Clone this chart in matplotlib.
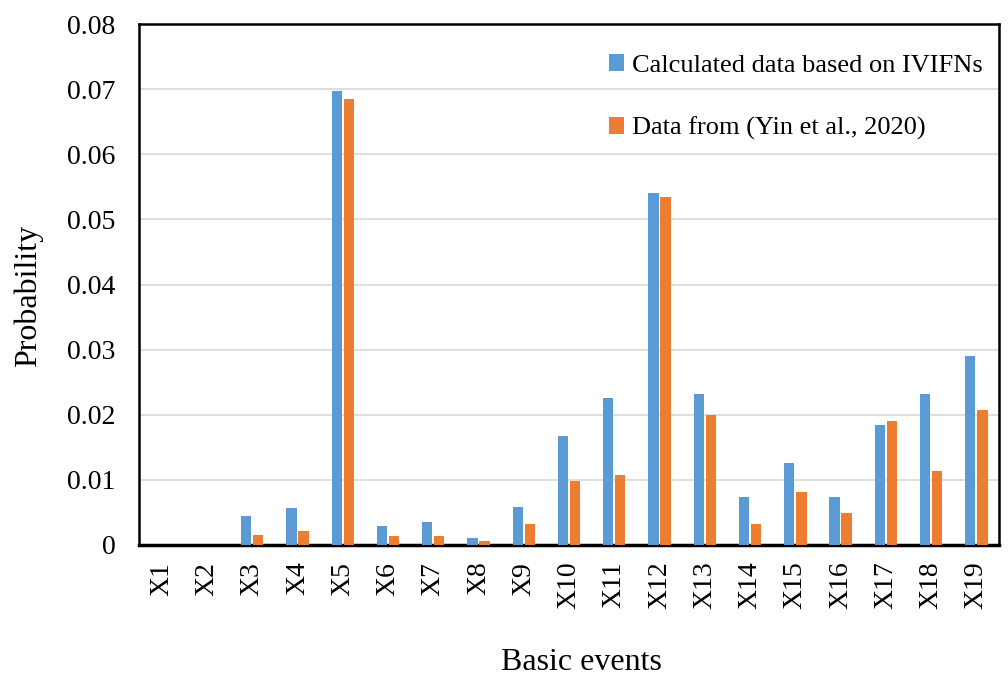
import matplotlib
matplotlib.use("Agg")
import matplotlib.pyplot as plt
import numpy as np

categories = [f"X{i}" for i in range(1, 20)]
calc_ivifn = [0.0, 0.0, 0.0044, 0.0057, 0.0697, 0.0029, 0.0035, 0.0011, 0.0059, 0.0167,
              0.0226, 0.0540, 0.0232, 0.0073, 0.0126, 0.0074, 0.0184, 0.0232, 0.0290]
yin_2020 = [0.0, 0.0, 0.0015, 0.0021, 0.0685, 0.0014, 0.0014, 0.0006, 0.0032, 0.0098,
            0.0107, 0.0534, 0.0199, 0.0032, 0.0082, 0.0049, 0.0191, 0.0114, 0.0207]
yticks = [0, 0.01, 0.02, 0.03, 0.04, 0.05, 0.06, 0.07, 0.08]
ytick_labels = ["0", "0.01", "0.02", "0.03", "0.04", "0.05", "0.06", "0.07", "0.08"]

plt.rcParams['font.family'] = ['Liberation Serif', 'DejaVu Serif']

fig = plt.figure(figsize=(10.08, 6.77), dpi=100)
ax = fig.add_axes([0.138, 0.195, 0.853, 0.7695])

x = np.arange(len(categories))
w = 0.23
ax.bar(x - 0.133, calc_ivifn, width=w, color="#5B9BD5", label="Calculated data based on IVIFNs", zorder=3)
ax.bar(x + 0.133, yin_2020, width=w, color="#ED7D31", label="Data from (Yin et al., 2020)", zorder=3)

ax.set_xlim(-0.5, len(categories) - 0.5)
ax.set_ylim(0, 0.08)
ax.set_yticks(yticks)
ax.set_yticklabels(ytick_labels, fontsize=20)
ax.set_xticks(x)
ax.set_xticklabels(categories, rotation=90, fontsize=20)
ax.tick_params(axis='y', length=0, pad=17)
ax.tick_params(axis='x', length=0, pad=12)
ax.yaxis.grid(True, color="#D9D9D9", linewidth=1.2, zorder=0)
ax.set_axisbelow(True)
for s in ax.spines.values():
    s.set_linewidth(1.8)
    s.set_color("black")
ax.spines['bottom'].set_linewidth(2.5)

ax.set_ylabel("Probability", fontsize=23)
ax.yaxis.set_label_coords(-0.1116, 0.478)
ax.set_xlabel("Basic events", fontsize=23)
ax.xaxis.set_label_coords(0.514, -0.197)

ax.legend(loc="upper right", frameon=False, fontsize=19, labelspacing=1.52,
          handlelength=0.6, handleheight=0.6, handletextpad=0.3,
          bbox_to_anchor=(1.0, 0.973), borderaxespad=0.2)

fig.savefig("out.png", dpi=100)
